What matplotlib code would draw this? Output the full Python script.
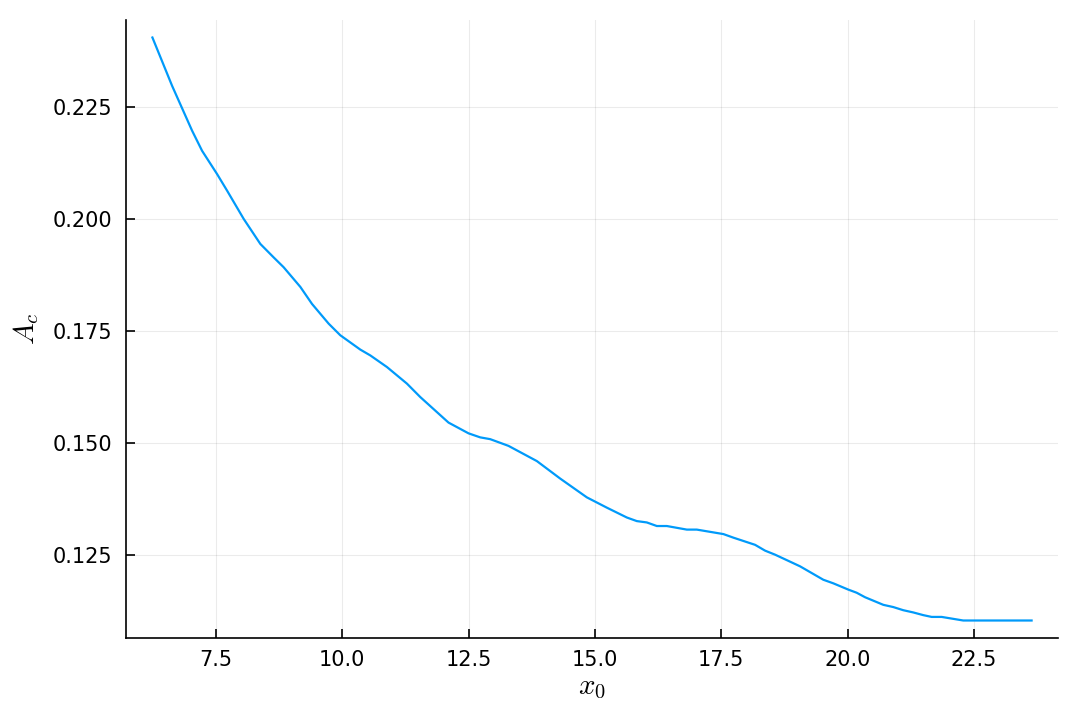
import numpy as np
import matplotlib
matplotlib.use('Agg')
import matplotlib.pyplot as plt

plt.rcParams['mathtext.fontset'] = 'cm'
plt.rcParams['font.family'] = 'DejaVu Sans'

# curve
x0 = [6.240, 6.630, 7.025, 7.223, 7.520, 7.718, 8.046, 8.376, 8.639, 8.837,
      9.168, 9.399, 9.728, 9.959, 10.355, 10.553, 10.883, 11.278, 11.542, 12.101,
      12.497, 12.728, 12.926, 13.288, 13.850, 14.311, 14.839, 15.235, 15.631, 15.828,
      16.026, 16.224, 16.422, 16.818, 17.015, 17.542, 17.740, 18.169, 18.367, 18.565,
      19.059, 19.520, 19.718, 20.014, 20.180, 20.345, 20.707, 20.905, 21.102, 21.300,
      21.498, 21.664, 21.862, 22.289, 23.642]
Ac = [0.2405, 0.2297, 0.2197, 0.2152, 0.2100, 0.2063, 0.2000, 0.1944, 0.1914, 0.1892,
      0.1848, 0.1810, 0.1766, 0.1740, 0.1708, 0.1695, 0.1669, 0.1632, 0.1602, 0.1545,
      0.1521, 0.1512, 0.1508, 0.1493, 0.1459, 0.1420, 0.1378, 0.1355, 0.1333, 0.1325,
      0.1322, 0.1314, 0.1314, 0.1306, 0.1306, 0.1296, 0.1288, 0.1272, 0.1259, 0.1250,
      0.1224, 0.1194, 0.1186, 0.1172, 0.1165, 0.1155, 0.1138, 0.1133, 0.1126, 0.1121,
      0.1115, 0.1111, 0.1111, 0.1103, 0.1103]

xticks = [7.5, 10.0, 12.5, 15.0, 17.5, 20.0, 22.5]
yticks = [0.125, 0.150, 0.175, 0.200, 0.225]

fig = plt.figure(figsize=(10.8, 7.2), dpi=100)
ax = fig.add_axes([0.1167, 0.1139, 0.8629, 0.8583])

ax.plot(x0, Ac, color='#009AFA', lw=1.6)

# 3% padding like Plots.jl
xr = max(x0) - min(x0)
yr = max(Ac) - min(Ac)
ax.set_xlim(min(x0) - 0.03 * xr, max(x0) + 0.03 * xr)
ax.set_ylim(min(Ac) - 0.03 * yr, max(Ac) + 0.03 * yr)

ax.set_xticks(xticks)
ax.set_xticklabels([f'{t:.1f}' for t in xticks])
ax.set_yticks(yticks)
ax.set_yticklabels([f'{t:.3f}' for t in yticks])

ax.grid(True, color='black', alpha=0.08, lw=0.8)
ax.spines['top'].set_visible(False)
ax.spines['right'].set_visible(False)
for s in ['left', 'bottom']:
    ax.spines[s].set_linewidth(1.2)
ax.tick_params(direction='in', length=6.5, width=1.2, labelsize=15)
ax.tick_params(axis='x', pad=9)
ax.tick_params(axis='y', pad=10)

ax.set_xlabel(r'$x_0$', fontsize=21, labelpad=2)
ax.set_ylabel(r'$A_c$', fontsize=21, labelpad=8)

fig.savefig('out.png', dpi=100)
